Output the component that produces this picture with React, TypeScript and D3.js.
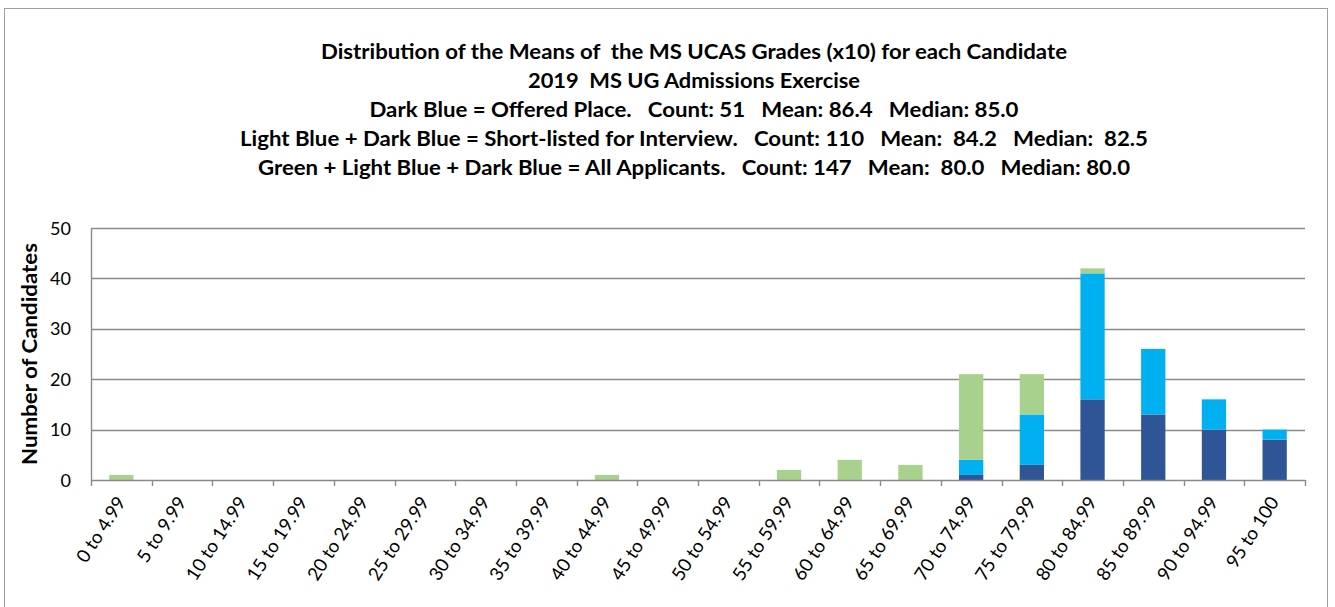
import * as d3 from "d3";
import { useEffect, useRef } from "react";

const categories = [
  "0 to 4.99", "5 to 9.99", "10 to 14.99", "15 to 19.99", "20 to 24.99",
  "25 to 29.99", "30 to 34.99", "35 to 39.99", "40 to 44.99", "45 to 49.99",
  "50 to 54.99", "55 to 59.99", "60 to 64.99", "65 to 69.99", "70 to 74.99",
  "75 to 79.99", "80 to 84.99", "85 to 89.99", "90 to 94.99", "95 to 100",
];
// dark blue = offered place
const offered = [0, 0, 0, 0, 0, 0, 0, 0, 0, 0, 0, 0, 0, 0, 1, 3, 16, 13, 10, 8];
// light blue = short-listed but not offered
const shortlisted = [0, 0, 0, 0, 0, 0, 0, 0, 0, 0, 0, 0, 0, 0, 3, 10, 25, 13, 6, 2];
// green = remaining applicants
const others = [1, 0, 0, 0, 0, 0, 0, 0, 1, 0, 0, 2, 4, 3, 17, 8, 1, 0, 0, 0];
const yTicks = [0, 10, 20, 30, 40, 50];

const titleLines = [
  "Distribution of the Means of  the MS UCAS Grades (x10) for each Candidate",
  "2019  MS UG Admissions Exercise",
  "Dark Blue = Offered Place.   Count: 51   Mean: 86.4   Median: 85.0",
  "Light Blue + Dark Blue = Short-listed for Interview.   Count: 110   Mean:  84.2   Median:  82.5",
  "Green + Light Blue + Dark Blue = All Applicants.   Count: 147   Mean:  80.0   Median: 80.0",
];
// widths the title lines take up in the reference
const titleWidths = [746, 332, 649, 908, 872];

const font = "Lato, 'Open Sans', sans-serif";

export default function App() {
  const svgRef = useRef<SVGSVGElement>(null);

  useEffect(() => {
    const svg = d3.select(svgRef.current);
    svg.selectAll("*").remove();

    const left = 91, right = 1305, top = 228, bottom = 480;

    const x = d3.scaleBand().domain(categories).range([left, right])
      .paddingInner(0.6).paddingOuter(0.3);
    const y = d3.scaleLinear().domain([0, 50]).range([bottom, top]);

    // outer frame
    svg.append("rect")
      .attr("x", 4.5).attr("y", 8.5).attr("width", 1323).attr("height", 620)
      .attr("fill", "white").attr("stroke", "#a0a0a0").attr("stroke-width", 1);

    // title
    const title = svg.append("g").attr("font-family", font).attr("font-weight", "bold")
      .attr("font-size", 20).attr("fill", "#000").attr("text-anchor", "middle");
    title.selectAll("text").data(titleLines).join("text")
      .style("white-space", "pre")
      .attr("x", 694).attr("y", (d, i) => 59 + i * 29)
      .attr("textLength", (d, i) => titleWidths[i])
      .attr("lengthAdjust", "spacingAndGlyphs")
      .text((d) => d);

    // gridlines
    svg.append("g").selectAll("line").data(yTicks.filter((t) => t > 0)).join("line")
      .attr("x1", left).attr("x2", right)
      .attr("y1", (d) => Math.round(y(d)) + 0.5).attr("y2", (d) => Math.round(y(d)) + 0.5)
      .attr("stroke", "#8a8a8a").attr("stroke-width", 1.4);

    // y axis line
    svg.append("line").attr("x1", left + 0.5).attr("x2", left + 0.5)
      .attr("y1", top).attr("y2", bottom).attr("stroke", "#8a8a8a").attr("stroke-width", 1.4);

    // stacked bars
    const rows = categories.map((c, i) => ({
      cat: c, offered: offered[i], shortlisted: shortlisted[i], others: others[i],
    }));
    const colors: Record<string, string> = {
      offered: "#2f5597", shortlisted: "#00b0f0", others: "#a9d18e",
    };
    const series = d3.stack<any>().keys(["offered", "shortlisted", "others"])(rows);
    svg.append("g").selectAll("g").data(series).join("g")
      .attr("fill", (s) => colors[s.key])
      .selectAll("rect").data((s) => s.filter((d) => d[1] > d[0])).join("rect")
      .attr("x", (d) => x(d.data.cat)!)
      .attr("width", x.bandwidth())
      .attr("y", (d) => y(d[1]))
      .attr("height", (d) => y(d[0]) - y(d[1]));

    // x axis
    const step = x.step();
    const bounds = categories.map((c) => x(c)! - (step - x.bandwidth()) / 2).concat([right]);
    svg.append("line").attr("x1", left).attr("x2", right)
      .attr("y1", bottom + 0.5).attr("y2", bottom + 0.5)
      .attr("stroke", "#8a8a8a").attr("stroke-width", 1.4);
    svg.append("g").selectAll("line").data(bounds).join("line")
      .attr("x1", (d) => Math.round(d) + 0.5).attr("x2", (d) => Math.round(d) + 0.5)
      .attr("y1", bottom).attr("y2", bottom + 6)
      .attr("stroke", "#8a8a8a").attr("stroke-width", 1.4);

    svg.append("g").attr("font-family", font).attr("font-size", 18.5).attr("fill", "#000")
      .selectAll("text").data(categories).join("text")
      .attr("text-anchor", "end")
      .attr("transform", (d) => `translate(${x(d)! + x.bandwidth() / 2 + 5},${bottom + 22}) rotate(-57)`)
      .text((d) => d);

    // y tick labels
    svg.append("g").attr("font-family", font).attr("font-size", 18).attr("fill", "#000")
      .selectAll("text").data(yTicks).join("text")
      .attr("text-anchor", "end").attr("x", 71).attr("y", (d) => y(d) + 6.5)
      .text((d) => d);

    // y axis title
    svg.append("text").attr("font-family", font).attr("font-weight", "bold")
      .attr("font-size", 20).attr("text-anchor", "middle")
      .attr("textLength", 222).attr("lengthAdjust", "spacingAndGlyphs")
      .attr("transform", `translate(37,${(top + bottom) / 2}) rotate(-90)`)
      .text("Number of Candidates");
  }, []);

  return (
    <svg ref={svgRef} width={1335} height={607}
      style={{ position: "absolute", left: 0, top: 0, background: "white" }} />
  );
}
